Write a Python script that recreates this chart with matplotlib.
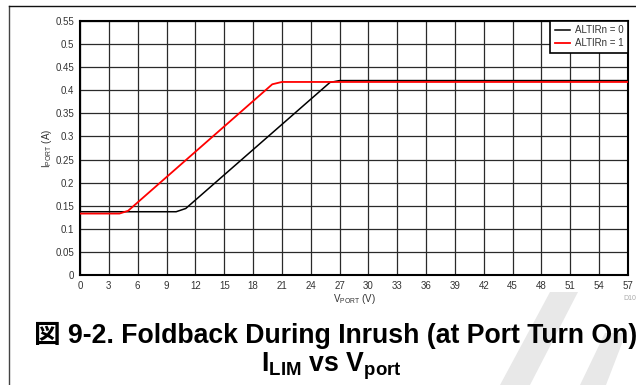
import matplotlib
matplotlib.use("Agg")
import matplotlib.pyplot as plt
from matplotlib.patches import Polygon
from matplotlib.lines import Line2D

plt.rcParams["font.family"] = ["Liberation Sans", "Noto Sans CJK JP", "DejaVu Sans"]
plt.rcParams["mathtext.fontset"] = "custom"
plt.rcParams["mathtext.rm"] = "Liberation Sans"
plt.rcParams["mathtext.it"] = "Liberation Sans:italic"
plt.rcParams["mathtext.bf"] = "Liberation Sans:bold"

# Port current limit vs port voltage, for each ALTIRn setting
v_altirn0 = [0, 10.0, 11.0, 26.0, 27.0, 57]
i_altirn0 = [0.137, 0.137, 0.144, 0.417, 0.421, 0.421]
v_altirn1 = [0, 4.1, 5.0, 20.0, 21.0, 57]
i_altirn1 = [0.133, 0.133, 0.139, 0.413, 0.418, 0.418]
series_labels = ["ALTIRn = 0", "ALTIRn = 1"]

x_ticks = list(range(0, 58, 3))
y_ticks = [0, 0.05, 0.1, 0.15, 0.2, 0.25, 0.3, 0.35, 0.4, 0.45, 0.5, 0.55]
y_tick_labels = ["0", "0.05", "0.1", "0.15", "0.2", "0.25", "0.3", "0.35",
                 "0.4", "0.45", "0.5", "0.55"]

W, H = 636, 385
fig = plt.figure(figsize=(W / 100, H / 100), dpi=100)


def fx(px):
    return px / W


def fy(py):
    return 1 - py / H


# faint diagonal watermark stripes behind everything
for pts in ([(550, 292), (578, 292), (530, 385), (500, 385)],
            [(605, 333), (626, 333), (606, 385), (580, 385)]):
    fig.patches.append(Polygon([(fx(x), fy(y)) for x, y in pts], closed=True,
                               transform=fig.transFigure, facecolor="#e8e8e8",
                               edgecolor="none", zorder=0))

# page frame lines
fig.add_artist(Line2D([fx(9), fx(9)], [fy(6), fy(385)], transform=fig.transFigure,
                      color="#444444", lw=1.0))
fig.add_artist(Line2D([fx(9), fx(636)], [fy(6), fy(6)], transform=fig.transFigure,
                      color="#111111", lw=1.0))

ax = fig.add_axes([fx(80), fy(275), (628 - 80) / W, (275 - 21) / H])
ax.set_facecolor("none")

ax.plot(v_altirn0, i_altirn0, color="black", lw=1.1, label=series_labels[0], zorder=3)
ax.plot(v_altirn1, i_altirn1, color="#ff0000", lw=1.3, label=series_labels[1], zorder=4)

ax.set_xlim(0, 57)
ax.set_ylim(0, 0.55)
ax.set_xticks(x_ticks)
ax.set_yticks(y_ticks)
ax.set_yticklabels(y_tick_labels)
ax.tick_params(length=0, labelsize=7, labelcolor="#333333", pad=4)
ax.grid(True, color="#2a2a2a", lw=0.9)
ax.set_axisbelow(True)
for s in ax.spines.values():
    s.set_linewidth(1.5)
    s.set_color("black")

ax.set_xlabel(r"V$_{\mathrm{PORT}}$ (V)", fontsize=7, color="#333333", labelpad=1)
ax.set_ylabel(r"I$_{\mathrm{PORT}}$ (A)", fontsize=7, color="#333333", labelpad=1)

leg = ax.legend(loc="upper right", fontsize=7, frameon=True, fancybox=False,
                edgecolor="black", borderaxespad=0, handlelength=1.6,
                handletextpad=0.5, borderpad=0.45, labelspacing=0.3,
                labelcolor="#333333")
leg.get_frame().set_linewidth(1.2)
leg.get_frame().set_alpha(1)

fig.text(fx(623), fy(299), "D10", fontsize=5, color="#aaaaaa", va="center", ha="left")

fig.text(fx(336), fy(343), "図 9-2. Foldback During Inrush (at Port Turn On)",
         fontsize=19.2, fontweight="bold", ha="center", va="baseline", color="black")
fig.text(fx(331), fy(371),
         r"$\mathbf{I}_{\mathbf{LIM}}\ \mathbf{vs}\ \mathbf{V}_{\mathbf{port}}$",
         fontsize=19.2, ha="center", va="baseline", color="black")

fig.savefig("out.png", dpi=100)
